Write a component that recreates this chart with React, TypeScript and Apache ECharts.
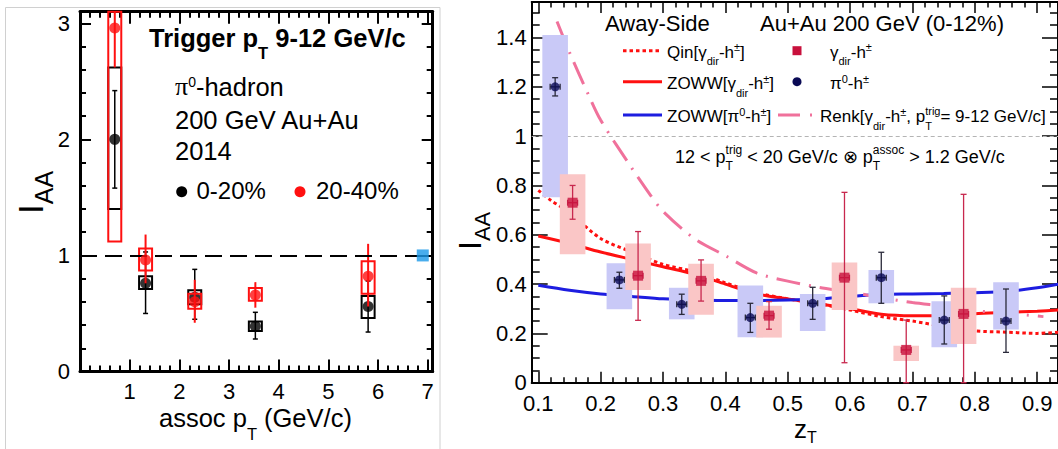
import React, { useEffect, useRef } from "react";
import * as echarts from "echarts";

const FONT = "Liberation Sans";
const SERIF = "Liberation Serif";

// ---------------- Left panel: pi0-hadron, trigger pT 9-12 GeV/c ----------------
const assocPt = [0.7, 1.32, 2.31, 3.53, 5.8];
const c020Y = [2.0, 0.76, 0.64, 0.39, 0.56];
const c020ErrLo = [1.58, 0.5, 0.45, 0.28, 0.34];
const c020ErrHi = [2.42, 1.03, 0.88, 0.51, 0.78];
const c020SysLo = [1.4, 0.71, 0.58, 0.35, 0.46];
const c020SysHi = [2.62, 0.82, 0.7, 0.43, 0.65];
const c2040Y = [2.96, 0.96, 0.6, 0.66, 0.82];
const c2040ErrLo = [2.62, 0.76, 0.42, 0.55, 0.56];
const c2040ErrHi = [3.5, 1.18, 0.79, 0.77, 1.1];
const c2040SysLo = [1.12, 0.87, 0.54, 0.61, 0.67];
const c2040SysHi = [3.5, 1.06, 0.67, 0.72, 0.95];
const normPoint = [6.9, 1.0];

const leftXTicks = [1, 2, 3, 4, 5, 6, 7];
const leftYTicks = [0, 1, 2, 3];

// ---------------- Right panel: away-side IAA vs zT ----------------
const pi0Z = [0.127, 0.23, 0.33, 0.44, 0.54, 0.65, 0.751, 0.85];
const pi0Y = [1.2, 0.417, 0.318, 0.264, 0.322, 0.426, 0.254, 0.25];
const pi0ErrLo = [1.163, 0.383, 0.277, 0.204, 0.257, 0.322, 0.157, 0.123];
const pi0ErrHi = [1.237, 0.448, 0.359, 0.322, 0.387, 0.529, 0.352, 0.38];
const pi0SysLo = [0.752, 0.298, 0.257, 0.184, 0.21, 0.322, 0.144, 0.216];
const pi0SysHi = [1.41, 0.484, 0.385, 0.394, 0.36, 0.457, 0.33, 0.407];

const gamZ = [0.155, 0.26, 0.361, 0.47, 0.591, 0.69, 0.782];
const gamY = [0.73, 0.434, 0.413, 0.272, 0.426, 0.133, 0.279];
const gamErrLo = [0.663, 0.253, 0.331, 0.217, 0.081, 0.0, 0.0];
const gamErrHi = [0.8, 0.613, 0.498, 0.329, 0.772, 0.254, 0.764];
const gamSysLo = [0.521, 0.376, 0.276, 0.183, 0.295, 0.088, 0.157];
const gamSysHi = [0.845, 0.565, 0.482, 0.312, 0.488, 0.15, 0.385];
const zTErr = 0.008;

const qinZ = [0.1, 0.12, 0.15, 0.2, 0.25, 0.3, 0.35, 0.4, 0.45, 0.5, 0.55, 0.6, 0.65, 0.7, 0.75, 0.8, 0.85, 0.9, 0.935];
const qinIAA = [0.78, 0.74, 0.69, 0.585, 0.53, 0.48, 0.45, 0.405, 0.365, 0.34, 0.32, 0.295, 0.268, 0.25, 0.228, 0.21, 0.205, 0.2, 0.205];
const zowwZ = [0.1, 0.15, 0.2, 0.25, 0.3, 0.35, 0.4, 0.45, 0.5, 0.55, 0.6, 0.65, 0.7, 0.75, 0.8, 0.85, 0.9, 0.935];
const zowwGamIAA = [0.595, 0.565, 0.53, 0.5, 0.47, 0.44, 0.4, 0.36, 0.34, 0.32, 0.3, 0.278, 0.272, 0.272, 0.28, 0.285, 0.29, 0.295];
const zowwPiIAA = [0.395, 0.375, 0.36, 0.35, 0.34, 0.335, 0.333, 0.333, 0.335, 0.34, 0.35, 0.358, 0.36, 0.362, 0.365, 0.37, 0.385, 0.4];
const renkZ = [0.13, 0.15, 0.18, 0.2, 0.25, 0.28, 0.3, 0.35, 0.4, 0.45, 0.5, 0.55, 0.6, 0.65, 0.7, 0.75, 0.8, 0.85, 0.91];
const renkIAA = [1.465, 1.34, 1.17, 1.065, 0.87, 0.76, 0.695, 0.585, 0.515, 0.445, 0.412, 0.387, 0.368, 0.345, 0.325, 0.31, 0.292, 0.282, 0.268];

const rightXTicks = [0.1, 0.2, 0.3, 0.4, 0.5, 0.6, 0.7, 0.8, 0.9];
const rightYTicks = [0, 0.2, 0.4, 0.6, 0.8, 1, 1.2, 1.4];

// ---------------- helpers ----------------
function minorTicks(min: number, max: number, step: number, majors: number[]) {
  const out: number[] = [];
  for (let i = Math.ceil(min / step - 1e-9); i * step <= max + 1e-9; i++) {
    const v = +(i * step).toFixed(6);
    if (v < min || v > max) continue;
    if (!majors.some((m) => Math.abs(m - v) < 1e-6)) out.push(v);
  }
  return out;
}

function frameAxes(
  dim: "x" | "y",
  gridIndex: number,
  min: number,
  max: number,
  majors: number[],
  minors: number[],
  majLen: number,
  minLen: number,
  lineW: number,
  tickW: number,
  label: any
) {
  const positions = dim === "x" ? ["bottom", "top"] : ["left", "right"];
  const axes: any[] = [];
  positions.forEach((pos, i) => {
    axes.push({
      type: "value",
      gridIndex,
      position: pos,
      min,
      max,
      axisLine: { show: true, onZero: false, lineStyle: { color: "#000", width: lineW } },
      axisTick: { show: true, inside: true, length: majLen, customValues: majors, lineStyle: { color: "#000", width: tickW } },
      axisLabel: i === 0 ? { ...label, customValues: majors } : { show: false },
      splitLine: { show: false },
      minorTick: { show: false },
    });
    axes.push({
      type: "value",
      gridIndex,
      position: pos,
      min,
      max,
      axisLine: { show: false, onZero: false },
      axisTick: { show: true, inside: true, length: minLen, customValues: minors, lineStyle: { color: "#000", width: tickW } },
      axisLabel: { show: false },
      splitLine: { show: false },
      minorTick: { show: false },
    });
  });
  return axes;
}

type Piece = { t: string; s: number; sh?: number; b?: boolean; f?: string; stay?: boolean };
let measureCtx: CanvasRenderingContext2D | null = null;
function measure(p: Piece) {
  if (!measureCtx) measureCtx = document.createElement("canvas").getContext("2d");
  const ctx = measureCtx!;
  ctx.font = `${p.b ? "bold " : ""}${p.s}px "${p.f || FONT}"`;
  return ctx.measureText(p.t).width;
}
function textRow(x: number, y: number, pieces: Piece[], rotation = 0, color = "#000", base?: number) {
  const S = base || pieces[0].s;
  let cx = 0;
  let pending = 0;
  const children = pieces.map((p) => {
    const w = measure(p);
    const el = {
      type: "text",
      x: cx,
      y: 0.3465 * (S - p.s) + (p.sh || 0),
      style: {
        text: p.t,
        fontSize: p.s,
        fontFamily: p.f || FONT,
        fontWeight: p.b ? "bold" : "normal",
        fill: color,
        align: "left",
        verticalAlign: "middle",
        textAlign: "left",
        textVerticalAlign: "middle",
      },
    };
    if (p.stay) {
      pending = w;
    } else {
      cx += Math.max(w, pending);
      pending = 0;
    }
    return el;
  });
  return { type: "group", x, y, rotation, z: 100, silent: true, children };
}

function leftBars(color: string, capHalf: number, errW: number) {
  return (params: any, api: any) => {
    const cs = params.coordSys;
    const top = cs.y;
    const bot = cs.y + cs.height;
    const cl = (v: number) => Math.max(top, Math.min(bot, v));
    const x = api.value(0);
    const px = api.coord([x, 0])[0];
    const eLo = api.coord([x, api.value(2)])[1];
    const eHi = api.coord([x, api.value(3)])[1];
    const sLo = cl(api.coord([x, api.value(4)])[1]);
    const sHi = cl(api.coord([x, api.value(5)])[1]);
    const hw = 6.5;
    const children: any[] = [
      { type: "rect", shape: { x: px - hw, y: sHi, width: 2 * hw, height: sLo - sHi }, style: { fill: "none", stroke: color, lineWidth: 2 } },
      { type: "line", shape: { x1: px, y1: cl(eLo), x2: px, y2: cl(eHi) }, style: { stroke: color, lineWidth: errW } },
    ];
    if (capHalf > 0) {
      if (eLo <= bot && eLo >= top) children.push({ type: "line", shape: { x1: px - capHalf, y1: eLo, x2: px + capHalf, y2: eLo }, style: { stroke: color, lineWidth: errW } });
      if (eHi <= bot && eHi >= top) children.push({ type: "line", shape: { x1: px - capHalf, y1: eHi, x2: px + capHalf, y2: eHi }, style: { stroke: color, lineWidth: errW } });
    }
    return { type: "group", children };
  };
}

function sysBoxes(fill: string, halfPx: number) {
  return (params: any, api: any) => {
    const cs = params.coordSys;
    const x = api.value(0);
    const lo = api.coord([x, api.value(4)]);
    const hi = api.coord([x, api.value(5)]);
    const top = Math.max(cs.y, hi[1]);
    const bot = Math.min(cs.y + cs.height, lo[1]);
    return { type: "rect", shape: { x: lo[0] - halfPx, y: top, width: 2 * halfPx, height: bot - top }, style: { fill } };
  };
}

function errBars(color: string, cap: number) {
  return (params: any, api: any) => {
    const cs = params.coordSys;
    const top = cs.y;
    const bot = cs.y + cs.height;
    const x = api.value(0);
    const y = api.value(1);
    const c = api.coord([x, y]);
    const lo = api.coord([x, api.value(2)])[1];
    const hi = api.coord([x, api.value(3)])[1];
    const l = api.coord([x - zTErr, y])[0];
    const r = api.coord([x + zTErr, y])[0];
    const L = (x1: number, y1: number, x2: number, y2: number) => ({ type: "line", shape: { x1, y1, x2, y2 }, style: { stroke: color, lineWidth: 1.3 } });
    const ch: any[] = [L(c[0], Math.min(bot, lo), c[0], Math.max(top, hi))];
    if (lo <= bot) ch.push(L(c[0] - cap, lo, c[0] + cap, lo));
    if (hi >= top) ch.push(L(c[0] - cap, hi, c[0] + cap, hi));
    ch.push(L(l, c[1], r, c[1]));
    ch.push(L(l, c[1] - cap, l, c[1] + cap));
    ch.push(L(r, c[1] - cap, r, c[1] + cap));
    return { type: "group", children: ch };
  };
}

const rows = (...cols: number[][]) => cols[0].map((_, i) => cols.map((c) => c[i]));

function buildOption() {
  const leftLabel = { show: true, color: "#000", fontFamily: FONT, fontSize: 22, margin: 9 };
  const rightXLabel = { show: true, color: "#000", fontFamily: FONT, fontSize: 22, margin: 10, formatter: (v: number) => String(+v.toFixed(1)) };
  const rightYLabel = { show: true, color: "#000", fontFamily: FONT, fontSize: 22, margin: 5, formatter: (v: number) => String(+v.toFixed(1)) };

  const L_XMIN = 0, L_XMAX = 7.1, L_YMIN = 0, L_YMAX = 3.1;
  const R_XMIN = 0.0894, R_XMAX = 0.9334, R_YMIN = 0, R_YMAX = 1.544;

  const xAxis = [
    ...frameAxes("x", 0, L_XMIN, L_XMAX, leftXTicks, minorTicks(L_XMIN, L_XMAX, 0.2, leftXTicks), 12, 6, 3, 2, leftLabel),
    ...frameAxes("x", 1, R_XMIN, R_XMAX, rightXTicks, minorTicks(R_XMIN, R_XMAX, 0.02, rightXTicks), 11, 5.5, 2, 1.5, rightXLabel),
  ];
  const yAxis = [
    ...frameAxes("y", 0, L_YMIN, L_YMAX, leftYTicks, minorTicks(L_YMIN, L_YMAX, 0.2, leftYTicks), 11, 6, 3, 2, { ...leftLabel, margin: 10 }),
    ...frameAxes("y", 1, R_YMIN, R_YMAX, rightYTicks, minorTicks(R_YMIN, R_YMAX, 0.05, rightYTicks), 16, 8, 2, 1.5, rightYLabel),
  ];

  const LX = 0, LY = 0, RX = 4, RY = 4;
  const RED = "#ff1010";
  const series: any[] = [
    // left panel
    {
      type: "custom", xAxisIndex: LX, yAxisIndex: LY, z: 2, silent: true,
      renderItem: leftBars("#000", 2.5, 1.5),
      data: rows(assocPt, c020Y, c020ErrLo, c020ErrHi, c020SysLo, c020SysHi),
    },
    {
      type: "scatter", xAxisIndex: LX, yAxisIndex: LY, z: 3, silent: true, symbol: "circle", symbolSize: 11,
      itemStyle: { color: "#000" },
      data: rows(assocPt, c020Y),
      markLine: {
        silent: true, symbol: "none", label: { show: false },
        lineStyle: { color: "#000", width: 2, type: [17, 8] },
        data: [{ yAxis: 1 }],
      },
    },
    {
      type: "custom", xAxisIndex: LX, yAxisIndex: LY, z: 4, silent: true,
      renderItem: leftBars(RED, 0, 2),
      data: rows(assocPt, c2040Y, c2040ErrLo, c2040ErrHi, c2040SysLo, c2040SysHi),
    },
    {
      type: "scatter", xAxisIndex: LX, yAxisIndex: LY, z: 5, silent: true, symbol: "circle", symbolSize: 11,
      itemStyle: { color: RED },
      data: rows(assocPt, c2040Y),
    },
    {
      type: "scatter", xAxisIndex: LX, yAxisIndex: LY, z: 6, silent: true, symbol: "rect", symbolSize: 12,
      itemStyle: { color: "#1a98e8" },
      data: [normPoint],
    },
    // right panel curves
    {
      type: "line", xAxisIndex: RX, yAxisIndex: RY, z: 2, silent: true, smooth: 0.3, showSymbol: false,
      lineStyle: { color: RED, width: 3, type: [3.5, 3] },
      data: rows(qinZ, qinIAA),
      markLine: {
        silent: true, symbol: "none", label: { show: false },
        lineStyle: { color: "#b4b4b4", width: 1, type: [4, 3] },
        data: [{ yAxis: 1 }],
      },
    },
    {
      type: "line", xAxisIndex: RX, yAxisIndex: RY, z: 2, silent: true, smooth: 0.3, showSymbol: false,
      lineStyle: { color: RED, width: 3 },
      data: rows(zowwZ, zowwGamIAA),
    },
    {
      type: "line", xAxisIndex: RX, yAxisIndex: RY, z: 2, silent: true, smooth: 0.3, showSymbol: false,
      lineStyle: { color: "#1d1de0", width: 3 },
      data: rows(zowwZ, zowwPiIAA),
    },
    {
      type: "line", xAxisIndex: RX, yAxisIndex: RY, z: 2, silent: true, smooth: 0.3, showSymbol: false,
      lineStyle: { color: "#f0719b", width: 3, type: [24, 9, 2, 9] },
      data: rows(renkZ, renkIAA),
    },
    // right panel boxes
    {
      type: "custom", xAxisIndex: RX, yAxisIndex: RY, z: 6, silent: true,
      renderItem: sysBoxes("#c9c9f7", 12.8),
      data: rows(pi0Z, pi0Y, pi0ErrLo, pi0ErrHi, pi0SysLo, pi0SysHi),
    },
    {
      type: "custom", xAxisIndex: RX, yAxisIndex: RY, z: 6, silent: true,
      renderItem: sysBoxes("#fac6c6", 12.8),
      data: rows(gamZ, gamY, gamErrLo, gamErrHi, gamSysLo, gamSysHi),
    },
    {
      type: "custom", xAxisIndex: RX, yAxisIndex: RY, z: 7, silent: true,
      renderItem: errBars("#2a2a3a", 3),
      data: rows(pi0Z, pi0Y, pi0ErrLo, pi0ErrHi, pi0SysLo, pi0SysHi),
    },
    {
      type: "custom", xAxisIndex: RX, yAxisIndex: RY, z: 7, silent: true,
      renderItem: errBars("#c8284e", 3),
      data: rows(gamZ, gamY, gamErrLo, gamErrHi, gamSysLo, gamSysHi),
    },
    {
      type: "scatter", xAxisIndex: RX, yAxisIndex: RY, z: 8, silent: true, symbol: "circle", symbolSize: 9,
      itemStyle: { color: "#0a0a55" },
      data: rows(pi0Z, pi0Y),
    },
    {
      type: "scatter", xAxisIndex: RX, yAxisIndex: RY, z: 8, silent: true, symbol: "rect", symbolSize: 10,
      itemStyle: { color: "#c8103c" },
      data: rows(gamZ, gamY),
    },
  ];

  const small = 11;
  const main = 17;
  const graphic: any[] = [
    { type: "rect", z: 0, silent: true, shape: { x: 5.5, y: 7.5, width: 434.5, height: 446 }, style: { fill: "none", stroke: "#d0d0d0", lineWidth: 1 } },
    // left texts
    textRow(149, 38, [{ t: "Trigger p", s: 25.5, b: true }, { t: "T", s: 16.5, b: true, sh: 11.5 }, { t: " 9-12 GeV/c", s: 25.5, b: true }]),
    textRow(175, 86.5, [{ t: "π", s: 26, f: SERIF }, { t: "0", s: 14, sh: -8 }, { t: "-hadron", s: 25.5 }], 0, "#000", 25.5),
    textRow(175, 119.5, [{ t: "200 GeV Au+Au", s: 25.5 }]),
    textRow(175, 151.2, [{ t: "2014", s: 25.5 }]),
    { type: "circle", z: 100, silent: true, shape: { cx: 181.7, cy: 191.7, r: 5.5 }, style: { fill: "#000" } },
    textRow(196.5, 190, [{ t: "0-20%", s: 24 }]),
    { type: "circle", z: 100, silent: true, shape: { cx: 300, cy: 191.7, r: 5.5 }, style: { fill: RED } },
    textRow(316, 190, [{ t: "20-40%", s: 24 }]),
    textRow(159, 418, [{ t: "assoc p", s: 25.5 }, { t: "T", s: 16.5, sh: 13 }, { t: " (GeV/c)", s: 25.5 }]),
    textRow(30, 214, [{ t: "I", s: 35 }, { t: "AA", s: 25, sh: 11 }], Math.PI / 2),
    // right texts
    textRow(605, 23.5, [{ t: "Away-Side", s: 22 }]),
    textRow(760, 23.5, [{ t: "Au+Au 200 GeV (0-12%)", s: 22 }]),
    { type: "line", z: 100, silent: true, shape: { x1: 623, y1: 50.7, x2: 662, y2: 50.7 }, style: { stroke: RED, lineWidth: 3, lineDash: [3.5, 3] } },
    { type: "line", z: 100, silent: true, shape: { x1: 623, y1: 81.7, x2: 662, y2: 81.7 }, style: { stroke: RED, lineWidth: 3 } },
    { type: "line", z: 100, silent: true, shape: { x1: 623, y1: 115, x2: 662, y2: 115 }, style: { stroke: "#1d1de0", lineWidth: 3 } },
    { type: "line", z: 100, silent: true, shape: { x1: 778, y1: 115, x2: 814, y2: 115 }, style: { stroke: "#f0719b", lineWidth: 3, lineDash: [22, 10, 2, 10] } },
    { type: "rect", z: 100, silent: true, shape: { x: 792.5, y: 46.2, width: 9, height: 9 }, style: { fill: "#c8103c" } },
    { type: "circle", z: 100, silent: true, shape: { cx: 797, cy: 81.7, r: 4.5 }, style: { fill: "#0a0a55" } },
    textRow(667, 52, [{ t: "Qin[γ", s: main }, { t: "dir", s: small, sh: 7 }, { t: "-h", s: main }, { t: "±", s: small, sh: -7 }, { t: "]", s: main }]),
    textRow(830, 52, [{ t: "γ", s: main }, { t: "dir", s: small, sh: 7 }, { t: "-h", s: main }, { t: "±", s: small, sh: -7 }]),
    textRow(667, 83.5, [{ t: "ZOWW[γ", s: main }, { t: "dir", s: small, sh: 7 }, { t: "-h", s: main }, { t: "±", s: small, sh: -7 }, { t: "]", s: main }]),
    textRow(830, 83.5, [{ t: "π", s: main }, { t: "0", s: small, sh: -7 }, { t: "-h", s: main }, { t: "±", s: small, sh: -7 }]),
    textRow(667, 116.5, [{ t: "ZOWW[π", s: main }, { t: "0", s: small, sh: -7 }, { t: "-h", s: main }, { t: "±", s: small, sh: -7 }, { t: "]", s: main }]),
    textRow(820, 116.5, [
      { t: "Renk[γ", s: main }, { t: "dir", s: small, sh: 7 }, { t: "-h", s: main }, { t: "±", s: small, sh: -7 },
      { t: ", p", s: main }, { t: "trig", s: small, sh: -8, stay: true }, { t: "T", s: small, sh: 7 }, { t: "= 9-12 GeV/c]", s: main },
    ]),
    textRow(675, 156.5, [
      { t: "12 < p", s: 18 }, { t: "trig", s: 12, sh: -9, stay: true }, { t: "T", s: 12, sh: 7 },
      { t: " < 20 GeV/c ⊗ p", s: 18 }, { t: "assoc", s: 12, sh: -9, stay: true }, { t: "T", s: 12, sh: 7 },
      { t: " > 1.2 GeV/c", s: 18 },
    ]),
    textRow(794, 428.5, [{ t: "z", s: 26 }, { t: "T", s: 16, sh: 6 }]),
    textRow(470, 250, [{ t: "I", s: 32 }, { t: "AA", s: 22, sh: 9 }], Math.PI / 2),
  ];

  return {
    animation: false,
    backgroundColor: "#fff",
    grid: [
      { left: 80, top: 11.7, width: 352.7, height: 359.8, containLabel: false },
      { left: 531.7, top: 2, width: 528.3, height: 380.7, containLabel: false },
    ],
    xAxis,
    yAxis,
    series,
    graphic,
  };
}

export default function App() {
  const ref = useRef<HTMLDivElement>(null);
  useEffect(() => {
    if (!ref.current) return;
    const chart = echarts.init(ref.current, null, { renderer: "svg" });
    chart.setOption(buildOption() as any);
    return () => chart.dispose();
  }, []);
  return <div ref={ref} style={{ position: "absolute", left: 0, top: 0, width: 1058, height: 449, background: "#fff" }} />;
}
